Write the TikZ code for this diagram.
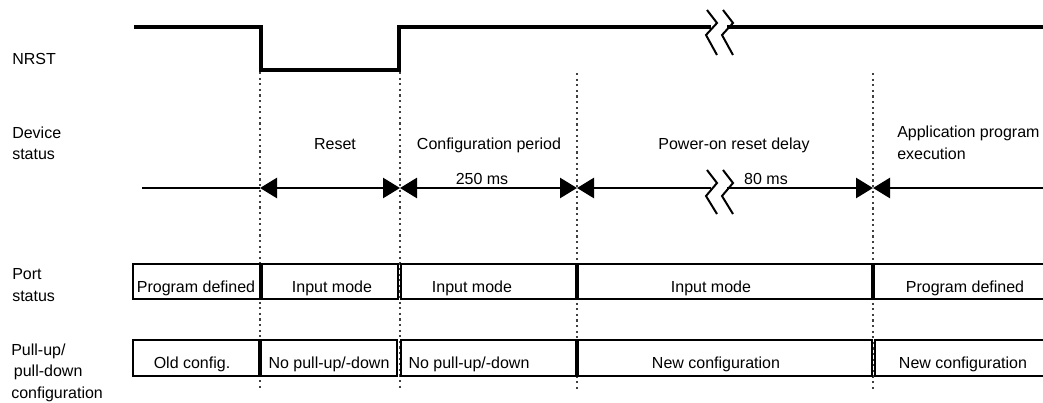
\documentclass[tikz,border=0pt]{standalone}
\usepackage{fontspec}
\setmainfont{Liberation Sans}
\usetikzlibrary{arrows.meta}
\tikzset{
  Tri/.tip={Triangle[length=12.75pt,width=15pt]},
  sig/.style={line width=2.4pt},
  tl/.style={line width=2pt},
  dur/.style={tl, Tri-Tri},
  brk/.style={line width=1.5pt},
  guide/.style={black!75, line width=0.9pt, dash pattern=on 1.6pt off 2.6pt},
  box/.style={line width=1.2pt},
  lbl/.style={anchor=base west, align=left, inner sep=0pt},
  txt/.style={anchor=base, inner sep=0pt}
}
\begin{document}
\begin{tikzpicture}[x=0.75pt,y=-0.75pt,font=\fontsize{12}{16.1}\selectfont]
\useasboundingbox (0,0) rectangle (1043,403);

% row labels (anchored at the last line)
\node[lbl] (nrst) at (12,65) {NRST};
\node[lbl] (dev) at (12,160) {Device\\status};
\node[lbl] (port) at (12,301) {Port\\status};
\node[lbl] (pull) at (11,398) {Pull-up/\\\hspace*{2pt}pull-down\\configuration};

% dotted phase borders
\foreach \x/\y in {260/72, 400/72, 577/73, 873/73}
  \draw[guide] (\x,\y) -- (\x,390);

% NRST signal
\draw[sig] (134,27) -- (261,27) -- (261,70) -- (399,70) -- (399,27) -- (711,27);
\draw[sig] (727,27) -- (1046,27);
\foreach \dx in {0,16}
  \draw[brk] (707+\dx,10) -- (717+\dx,23) -- (706+\dx,35) -- (717+\dx,55);

% device status time line
\coordinate (t0) at (142,188);
\coordinate (t1) at (260,188);
\coordinate (t2) at (400,188);
\coordinate (t3) at (577,188);
\coordinate (b1) at (711,188);
\coordinate (b2) at (727,188);
\coordinate (t4) at (873,188);
\coordinate (t5) at (1046,188);
\draw[tl] (t0) -- (t1);
\draw[dur] (t1) -- (t2);
\draw[dur] (t2) -- (t3);
\draw[tl, Tri-] (t3) -- (b1);
\draw[tl, -Tri] (b2) -- (t4);
\draw[tl, Tri-] (t4) -- (t5);
\foreach \dx in {0,16}
  \draw[brk] (707+\dx,170) -- (717+\dx,183) -- (706+\dx,196) -- (717+\dx,214);

\node[txt] (reset) at (335,150) {Reset};
\node[txt] (cfg) at (489,150) {Configuration period};
\node[txt] (ms250) at (482,184) {250 ms};
\node[txt] (por) at (734,150) {Power-on reset delay};
\node[txt] (ms80) at (766,184) {80 ms};
\node[lbl] (app) at (897,159) {Application program\\execution};

% port status
\foreach \a/\b/\c/\t [count=\i] in {133/260/196/{Program defined}, 262/398/332/{Input mode},
    401/576/472/{Input mode}, 578/872/711/{Input mode}, 874/1046/965/{Program defined}}{
  \draw[box] (\a,264) rectangle (\b,299);
  \node[txt] (p\i) at (\c,292) {\t};
}

% pull-up/pull-down configuration
\foreach \a/\b/\c/\t [count=\i] in {133/259/192/{Old config.}, 261/397/329/{No pull-up/-down},
    401/576/469/{No pull-up/-down}, 578/872/716/{New configuration}, 875/1046/963/{New configuration}}{
  \draw[box] (\a,340) rectangle (\b,376);
  \node[txt] (c\i) at (\c,368) {\t};
}
\end{tikzpicture}
\end{document}
